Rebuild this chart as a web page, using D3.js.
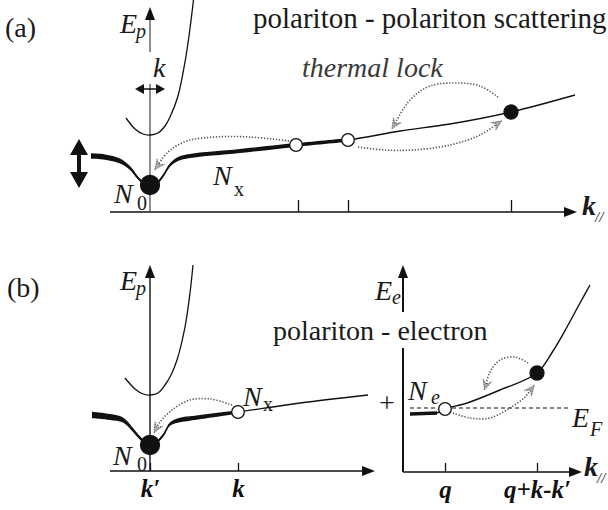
<!DOCTYPE html>
<html>
<head>
<meta charset="utf-8">
<script src="https://cdn.jsdelivr.net/npm/d3@7"></script>
</head>
<body style="margin:0">
<script>
var svgWidth = 608;
var svgHeight = 510;
var FONT = "Liberation Serif";

// Dispersion curves as (k, E) pairs, arbitrary units
var lowerA = [[-5.9, 5.6], [-4.5, 5.5], [-3.0, 5.1], [-2.0, 4.4], [-1.2, 3.4], [-0.5, 2.8], [0, 2.6],
  [0.6, 2.8], [1.3, 3.6], [2.0, 4.7], [2.8, 5.3], [4.0, 5.6], [9.0, 6.1], [14.6, 6.7], [19.8, 7.2],
  [25.0, 8.1], [30.0, 8.8], [36.1, 10.0], [42.5, 11.7]];
var upperA = [[-2.4, 9.4], [-1.5, 8.3], [-0.7, 7.8], [0, 7.7], [0.8, 7.9], [1.5, 8.6], [2.0, 9.5],
  [2.8, 11.6], [3.5, 15.0], [3.9, 17.6], [4.35, 21.2]];
var lowerB = [[-5.8, 5.6], [-4.0, 5.4], [-2.7, 5.1], [-1.7, 4.1], [-1.0, 3.3], [0, 2.5], [0.8, 3.0],
  [1.4, 3.7], [2.0, 4.7], [3.0, 5.1], [4.0, 5.25], [8.8, 5.9], [15.0, 6.8], [21.8, 7.6]];
var upperB = [[-2.5, 9.3], [-1.5, 8.2], [-0.7, 7.7], [0, 7.6], [0.8, 7.8], [1.5, 8.6], [2.1, 9.6],
  [2.7, 11.1], [3.5, 14.4], [4.0, 17.8], [4.3, 20.6]];
var electron = [[0.7, 5.8], [3.4, 5.9], [4.2, 6.3], [6.4, 6.9], [9.7, 8.2], [13.4, 9.9], [15.0, 12.1],
  [16.4, 14.5], [17.7, 16.9], [18.7, 18.7]];

// particle states
var condA = [[0, 2.7]];
var openA = [[14.6, 6.7], [19.8, 7.2]];
var fullA = [[36.1, 10.0]];
var condB = [[0, 2.6]];
var openB = [[8.8, 5.9]];
var openE = [[4.2, 6.3]];
var fullE = [[13.4, 9.9]];

// ticks
var ticksA = [14.8, 19.8, 36.1];
var ticksB = [0, 8.8];
var tickLabelsB = ["k\u2032", "k"];
var ticksE = [4.2, 13.4];
var tickLabelsE = ["q", "q+k-k\u2032"];
var fermi = [[0.7, 6.4], [16.5, 6.4]];

// scattering paths (dotted arrows)
var arcsA = [
  [[13.9, 7.1], [10, 7.5], [6.5, 7.5], [3.7, 7.1], [1.8, 6.0], [0.6, 4.4]],
  [[20.8, 6.5], [23.5, 6.2], [26.3, 6.2], [30, 6.7], [33, 7.7], [35, 9.0]],
  [[34.8, 11.5], [33, 12.6], [30.7, 12.9], [28, 12.6], [26, 11.2], [24.3, 8.5]]
];
var arcsB = [[[8.2, 6.6], [6, 7.2], [4, 7.1], [2.2, 6.1], [1.0, 4.9], [0.5, 4.0]]];
var arcsE = [
  [[5, 5.9], [6.7, 5.4], [8.7, 5.4], [10.7, 6.4], [12.2, 7.5], [13, 8.5]],
  [[12.5, 10.9], [11.2, 11.5], [9.7, 11.2], [8.7, 10.0], [8.2, 8.4]]
];
var shiftArrow = [[-7.1, 2.4], [-7.1, 7.3]];
var kArrow = [[-1.5, 12.3], [1.5, 12.3]];

var svg = d3.select("body")
  .append("svg")
  .attr("width", svgWidth)
  .attr("height", svgHeight)
  .style("font-family", "'" + FONT + "'");

// scales
var xA = d3.scaleLinear().domain([0, 40]).range([150, 550]);
var yA = d3.scaleLinear().domain([0, 20]).range([212, 12]);
var xB = d3.scaleLinear().domain([0, 40]).range([150, 550]);
var yB = d3.scaleLinear().domain([0, 20]).range([471, 271]);
var xE = d3.scaleLinear().domain([0, 18]).range([403, 583]);
var yE = d3.scaleLinear().domain([0, 20]).range([472, 272]);

// thickness of the populated part of the lower branch
var wA = d3.scaleLinear().domain([-6, -3, -1.2, 0, 1.3, 2.8, 14.6, 19.8]).range([5.5, 5, 3, 2.5, 3, 4.2, 3.8, 3.6]);
var wB = d3.scaleLinear().domain([-6, -3, -1, 0, 1.4, 3, 8.8]).range([6.5, 5.5, 3.5, 2.5, 3, 4.5, 3.5]);
var wE = d3.scaleLinear().domain([0, 4]).range([3.5, 3.5]);

function curve(g, sx, sy, pts, w) {
  g.append("path").datum(pts)
    .attr("d", d3.line().x(d => sx(d[0])).y(d => sy(d[1])).curve(d3.curveCatmullRom))
    .attr("fill", "none").attr("stroke", "#111").attr("stroke-width", w);
}

function band(g, sx, sy, pts, ws) {
  g.append("path").datum(pts)
    .attr("d", d3.area().x(d => sx(d[0]))
      .y0(d => sy(d[1]) - ws(d[0]) / 2)
      .y1(d => sy(d[1]) + ws(d[0]) / 2)
      .curve(d3.curveCatmullRom))
    .attr("fill", "#111");
}

function dots(g, sx, sy, pts, r, fill) {
  g.selectAll(null).data(pts).enter().append("circle")
    .attr("cx", d => sx(d[0])).attr("cy", d => sy(d[1])).attr("r", r)
    .attr("fill", fill).attr("stroke", "#111").attr("stroke-width", 1.3);
}

function arcs(g, sx, sy, list) {
  list.forEach(function (pts) {
    g.append("path").datum(pts)
      .attr("d", d3.line().x(d => sx(d[0])).y(d => sy(d[1])).curve(d3.curveCatmullRom))
      .attr("fill", "none").attr("stroke", "#555").attr("stroke-width", 1.6)
      .attr("stroke-dasharray", "1.3,1.7");
    var a = pts[pts.length - 2], b = pts[pts.length - 1];
    var x1 = sx(a[0]), y1 = sy(a[1]), x2 = sx(b[0]), y2 = sy(b[1]);
    var ang = Math.atan2(y2 - y1, x2 - x1);
    var c = Math.cos(ang), s = Math.sin(ang);
    var tipX = x2 + c * 2, tipY = y2 + s * 2;
    var head = [[tipX, tipY],
      [tipX - c * 10 - s * 4.5, tipY - s * 10 + c * 4.5],
      [tipX - c * 6, tipY - s * 6],
      [tipX - c * 10 + s * 4.5, tipY - s * 10 - c * 4.5]];
    g.append("path").attr("d", "M" + head.join("L") + "Z")
      .attr("fill", "#aaa").attr("stroke", "#555").attr("stroke-width", 0.8)
      .attr("stroke-dasharray", "1.5,1");
  });
}

function arrowHead(g, x, y, ang, len, hw) {
  var c = Math.cos(ang), s = Math.sin(ang);
  var p = [[x, y], [x - c * len - s * hw, y - s * len + c * hw], [x - c * len + s * hw, y - s * len - c * hw]];
  g.append("path").attr("d", "M" + p.join("L") + "Z").attr("fill", "#111");
}

function seg(g, x1, y1, x2, y2, w, col) {
  g.append("line").attr("x1", x1).attr("y1", y1).attr("x2", x2).attr("y2", y2)
    .attr("stroke", col || "#111").attr("stroke-width", w);
}

function txt(g, x, y, s, size, opts) {
  opts = opts || {};
  var t = g.append("text").attr("x", x).attr("y", y)
    .style("font-family", "'" + FONT + "'")
    .attr("font-size", size)
    .attr("text-anchor", opts.anchor || "start")
    .attr("fill", opts.fill || "#1a1a1a")
    .text(s);
  if (opts.italic) t.style("font-style", "italic");
  if (opts.bold) t.style("font-weight", "bold");
  return t;
}

function xAxisTicks(g, sx, y0, vals, labels, size) {
  var ax = g.append("g")
    .attr("transform", `translate(0, ${y0})`)
    .call(d3.axisBottom(sx).tickValues(vals).tickSizeInner(-size).tickSizeOuter(0).tickPadding(8)
      .tickFormat(labels ? (d, i) => labels[i] : ""));
  ax.select(".domain").remove();
  ax.attr("font-family", null).attr("font-size", null);
  ax.selectAll("line").attr("stroke", "#111").attr("stroke-width", 1.3);
  ax.selectAll("text")
    .style("font-family", "'" + FONT + "'").attr("font-size", 25)
    .style("font-style", "italic").style("font-weight", "bold").attr("fill", "#111");
  return ax;
}

// ---------------- panel (a) ----------------
var gA = svg.append("g");

txt(gA, 5, 37, "(a)", 28);
txt(gA, 253, 28, "polariton - polariton scattering", 29);
txt(gA, 302, 77, "thermal lock", 28, { italic: true, fill: "#3a3a3a" });

// axes
seg(gA, xA(-4), yA(0), xA(42.7) - 12, yA(0), 1.5);
arrowHead(gA, xA(42.7), yA(0), 0, 13, 5);
seg(gA, xA(0), yA(0), xA(0), yA(12.8), 1.2, "#444");
seg(gA, xA(0), yA(16), xA(0), yA(19.3), 1.2, "#444");
arrowHead(gA, xA(0), yA(20.5), -Math.PI / 2, 13, 5);
xAxisTicks(gA, xA, yA(0), ticksA, null, 12);

curve(gA, xA, yA, upperA, 1.3);
curve(gA, xA, yA, lowerA, 1.4);
band(gA, xA, yA, lowerA.filter(d => d[0] <= 19.8), wA);
arcs(gA, xA, yA, arcsA);
dots(gA, xA, yA, condA, 9.5, "#111");
dots(gA, xA, yA, openA, 6.3, "#fff");
dots(gA, xA, yA, fullA, 7, "#111");

// pump energy shift and k-spread arrows
(function () {
  var x = xA(shiftArrow[0][0]), yb = yA(shiftArrow[0][1]), yt = yA(shiftArrow[1][1]);
  seg(gA, x, yt + 12, x, yb - 12, 4);
  arrowHead(gA, x, yt, -Math.PI / 2, 16, 9);
  arrowHead(gA, x, yb, Math.PI / 2, 16, 9);
  var y = yA(kArrow[0][1]), xl = xA(kArrow[0][0]), xr = xA(kArrow[1][0]);
  seg(gA, xl + 6, y, xr - 6, y, 1.5);
  arrowHead(gA, xl, y, Math.PI, 9, 5);
  arrowHead(gA, xr, y, 0, 9, 5);
})();

txt(gA, 120, 33, "E", 28, { italic: true });
txt(gA, 136, 38, "p", 20, { italic: true });
txt(gA, 153, 77, "k", 28, { italic: true });
txt(gA, 114, 203, "N", 28, { italic: true });
txt(gA, 137, 210, "0", 20);
txt(gA, 213, 185, "N", 28, { italic: true });
txt(gA, 234, 196, "x", 20);
txt(gA, 582, 215, "k", 28, { italic: true, bold: true });
txt(gA, 595, 222, "//", 15, { italic: true });

// ---------------- panel (b) ----------------
var gB = svg.append("g");

txt(gB, 7, 297, "(b)", 28);
txt(gB, 273, 340, "polariton - electron", 28);

seg(gB, xB(-4), yB(0), xB(22.5) - 12, yB(0), 1.5);
arrowHead(gB, xB(22.5), yB(0), 0, 13, 5);
seg(gB, xB(0), yB(0), xB(0), yB(19.4), 1.4);
arrowHead(gB, xB(0), yB(20.6), -Math.PI / 2, 13, 5);
xAxisTicks(gB, xB, yB(0), ticksB, tickLabelsB, 8);

curve(gB, xB, yB, upperB, 1.3);
curve(gB, xB, yB, lowerB, 1.4);
band(gB, xB, yB, lowerB.filter(d => d[0] <= 8.8), wB);
arcs(gB, xB, yB, arcsB);
dots(gB, xB, yB, condB, 9.5, "#111");
dots(gB, xB, yB, openB, 6.3, "#fff");

txt(gB, 120, 290, "E", 28, { italic: true });
txt(gB, 136, 295, "p", 20, { italic: true });
txt(gB, 113, 465, "N", 28, { italic: true });
txt(gB, 137, 471, "0", 20);
txt(gB, 243, 406, "N", 28, { italic: true });
txt(gB, 263, 411, "x", 20);
txt(gB, 387, 412, "+", 28, { anchor: "middle" });

// electron sub-panel
var gE = svg.append("g");
seg(gE, xE(0), yE(0), xE(17.9) - 12, yE(0), 1.5);
arrowHead(gE, xE(17.9), yE(0), 0, 13, 5);
seg(gE, xE(0), yE(0), xE(0), yE(12.4), 2);
seg(gE, xE(0), yE(16), xE(0), yE(19.4), 2);
arrowHead(gE, xE(0), yE(20.7), -Math.PI / 2, 13, 5);
xAxisTicks(gE, xE, yE(0), ticksE, tickLabelsE, 9);

gE.append("path").datum(fermi)
  .attr("d", d3.line().x(d => xE(d[0])).y(d => yE(d[1])))
  .attr("stroke", "#111").attr("stroke-width", 1.2).attr("stroke-dasharray", "4,3");
curve(gE, xE, yE, electron, 1.4);
band(gE, xE, yE, electron.filter(d => d[0] <= 3.4), wE);
arcs(gE, xE, yE, arcsE);
dots(gE, xE, yE, openE, 6.3, "#fff");
dots(gE, xE, yE, fullE, 7, "#111");

txt(gE, 375, 300, "E", 28, { italic: true });
txt(gE, 392, 304, "e", 20, { italic: true });
txt(gE, 408, 400, "N", 28, { italic: true });
txt(gE, 431, 404, "e", 20, { italic: true });
txt(gE, 572, 427, "E", 28, { italic: true });
txt(gE, 590, 436, "F", 20, { italic: true });
txt(gE, 584, 476, "k", 28, { italic: true, bold: true });
txt(gE, 597, 483, "//", 15, { italic: true });
</script>
</body>
</html>
